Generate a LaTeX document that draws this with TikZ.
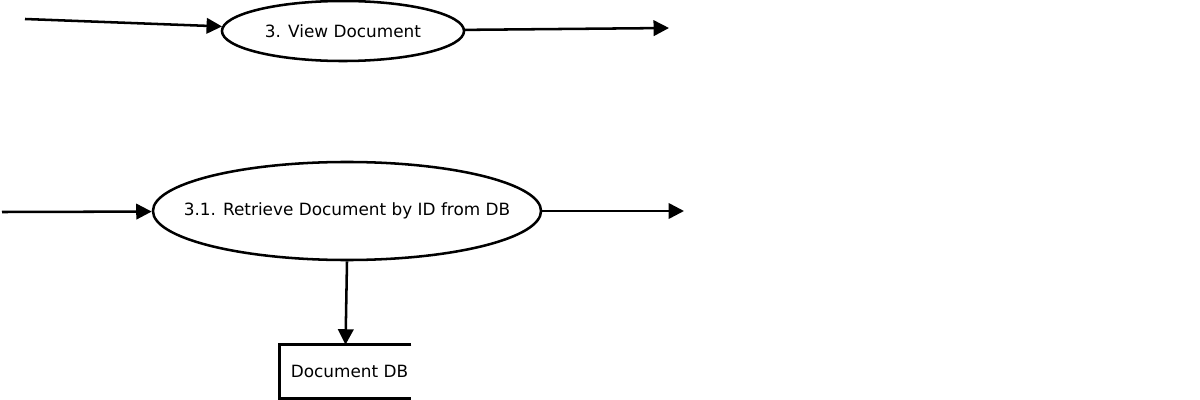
\documentclass[tikz,border=0pt]{standalone}
\usepackage{fontspec}
\setmainfont{DejaVu Sans}
\usetikzlibrary{shapes.geometric,arrows.meta,positioning}

\begin{document}
\begin{tikzpicture}[
    x=0.025cm, y=-0.025cm,
    process/.style={ellipse, draw, line width=1.8pt, inner sep=0pt},
    store/.style={rectangle, minimum width=3.275cm, minimum height=1.325cm, inner sep=0pt},
    flow/.style={-{Triangle[length=11pt,width=11pt]}, line width=1.8pt},
    every label/.style={font=\fontsize{12}{14}\selectfont, inner sep=0pt}
]
    \useasboundingbox (0,0) rectangle (1200,400);

    \node[process, minimum width=6.05cm, minimum height=1.5cm, label=center:{3. View Document}] (view) at (343,31) {};
    \node[process, minimum width=9.7cm, minimum height=2.45cm, label=center:{3.1. Retrieve Document by ID from DB}] (retrieve) at (347,211) {};
    \node[store, label={[xshift=0.1cm]center:Document DB}] (docdb) at (345.5,371.5) {};

    \coordinate (viewin) at (25,19);
    \coordinate (viewout) at (669,28);
    \coordinate (retin) at (2,212);
    \coordinate (retout) at (684,211);

    \draw[flow] (viewin) -- (view);
    \draw[flow] (view) -- (viewout);
    \draw[flow] (retin) -- (retrieve);
    \draw[flow] (retrieve) -- (retout);
    \draw[flow] (retrieve.south) -- (docdb.north);

    % open-ended data store
    \draw[line width=1.8pt] (docdb.north east) -- (docdb.north west) -- (docdb.south west) -- (docdb.south east);
\end{tikzpicture}
\end{document}
